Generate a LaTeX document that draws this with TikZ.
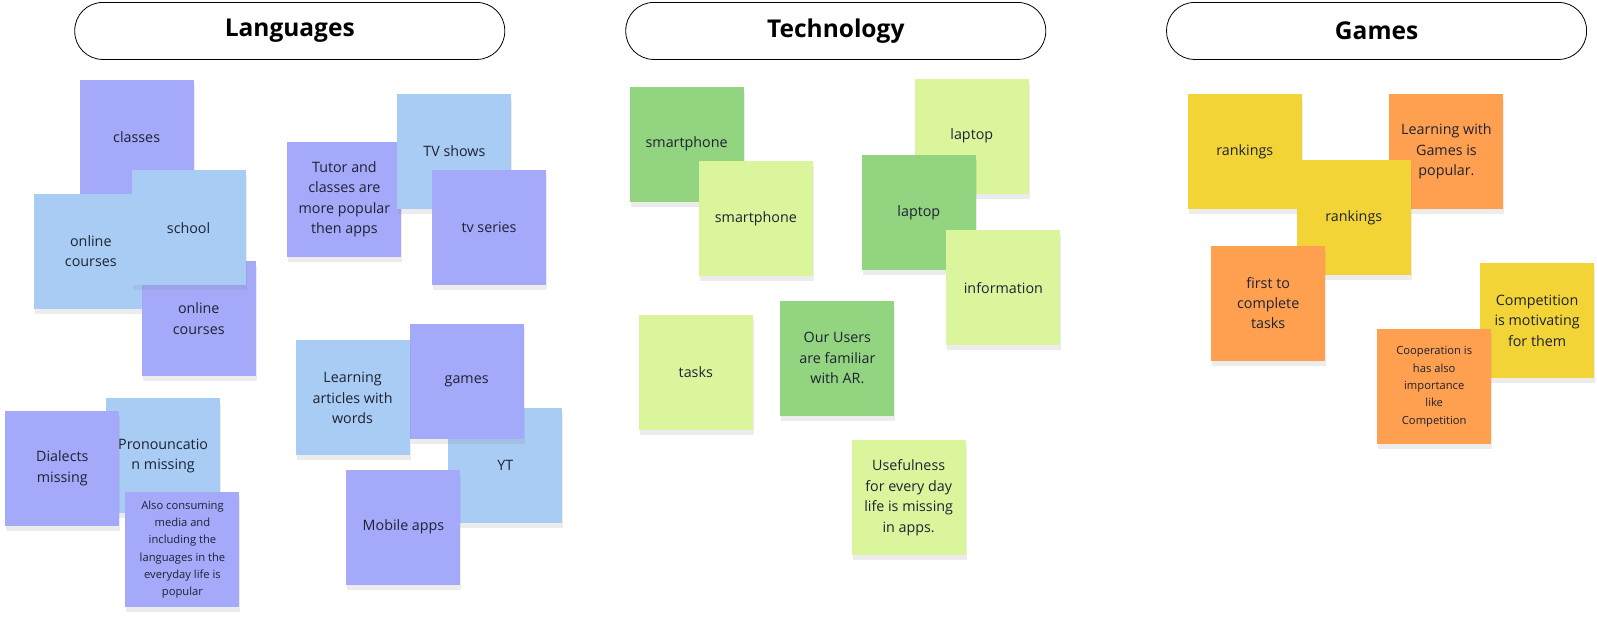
\documentclass[tikz,border=0pt]{standalone}
\usepackage{fontspec}
\setmainfont{Open Sans}
\usetikzlibrary{shadows}
\definecolor{cpur}{HTML}{A4A9F9}
\definecolor{cblu}{HTML}{A8CCF3}
\definecolor{cdg}{HTML}{93D480}
\definecolor{clg}{HTML}{DAF59C}
\definecolor{cyel}{HTML}{F3D436}
\definecolor{cor}{HTML}{FEA050}
\definecolor{ctxt}{HTML}{1E2233}
\tikzset{
 hdr/.style={draw=black,line width=0.8pt,rounded corners=28pt,minimum width=430pt,minimum height=57pt,anchor=north west,font=\fontsize{24.5}{28}\selectfont\bfseries,text=black},
 note/.style={anchor=north west,minimum width=114pt,minimum height=115pt,inner sep=0pt,align=center,font=\fontsize{14.3}{20.4}\selectfont,text=ctxt,drop shadow={opacity=0.15,shadow xshift=1pt,shadow yshift=-5pt}},
 small/.style={font=\fontsize{11.2}{17.3}\selectfont}
}
\begin{document}
\begin{tikzpicture}[x=1.0185pt,y=-1.0185pt]
\useasboundingbox (0,0) rectangle (1568,614);
\node[hdr] (h1) at (73,2) {Languages};
\node[hdr,minimum width=420pt] (h2) at (614,2) {Technology};
\node[hdr,minimum width=420pt] (h3) at (1145,2) {Games};
% Languages
\node[note,fill=cpur] (l1) at (78,78) {classes};
\node[note,fill=cblu] (l2) at (33,190) {online\\courses};
\node[note,fill=cpur] (l4) at (139,256) {online\\courses};
\node[note,fill=cblu] (l3) at (129,167) {school};
\node[note,fill=cpur] (l5) at (282,139) {Tutor and\\classes are\\more popular\\then apps};
\node[note,fill=cblu] (l6) at (390,92) {TV shows};
\node[note,fill=cpur] (l7) at (424,167) {tv series};
\node[note,fill=cblu] (l8) at (440,400) {YT};
\node[note,fill=cpur] (l9) at (402,318) {games};
\node[note,fill=cblu] (l10) at (290,334) {Learning\\articles with\\words};
\node[note,fill=cpur] (l11) at (340,461) {Mobile apps};
\node[note,fill=cblu] (l13) at (104,391) {Pronouncatio\\n missing};
\node[note,fill=cpur] (l12) at (5,403) {Dialects\\missing};
\node[note,fill=cpur,small] (l14) at (123,483) {Also consuming\\media and\\including the\\languages in the\\everyday life is\\popular};
% Technology
\node[note,fill=cdg] (t1) at (618,85) {smartphone};
\node[note,fill=clg] (t2) at (686,158) {smartphone};
\node[note,fill=clg] (t3) at (898,77) {laptop};
\node[note,fill=cdg] (t4) at (846,152) {laptop};
\node[note,fill=clg] (t5) at (929,226) {information};
\node[note,fill=clg] (t6) at (627,309) {tasks};
\node[note,fill=cdg] (t7) at (766,295) {Our Users\\are familiar\\with AR.};
\node[note,fill=clg] (t8) at (836,432) {Usefulness\\for every day\\life is missing\\in apps.};
% Games
\node[note,fill=cyel] (g1) at (1166,92) {rankings};
\node[note,fill=cor] (g2) at (1364,92) {Learning with\\Games is\\popular.};
\node[note,fill=cyel] (g3) at (1273,157) {rankings};
\node[note,fill=cor] (g4) at (1189,241) {first to\\complete\\tasks};
\node[note,fill=cyel] (g5) at (1453,258) {Competition\\is motivating\\for them};
\node[note,fill=cor,small] (g6) at (1352,323) {Cooperation is\\has also\\importance\\like\\Competition};
\end{tikzpicture}
\end{document}
